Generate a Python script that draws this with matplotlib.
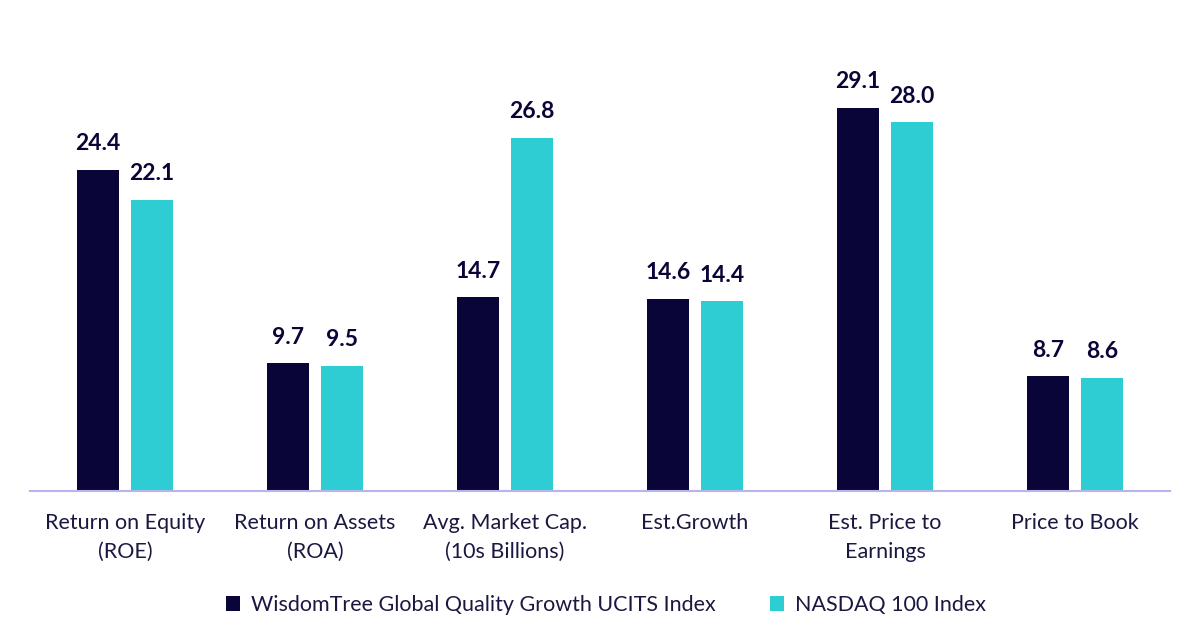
import matplotlib.pyplot as plt
import numpy as np

categories = ["Return on Equity\n(ROE)", "Return on Assets\n(ROA)", "Avg. Market Cap.\n(10s Billions)",
              "Est.Growth", "Est. Price to\nEarnings", "Price to Book"]
wisdomtree = [24.4, 9.7, 14.7, 14.6, 29.1, 8.7]
nasdaq = [22.1, 9.5, 26.8, 14.4, 28.0, 8.6]
series_names = ["WisdomTree Global Quality Growth UCITS Index", "NASDAQ 100 Index"]

dark = "#0a0538"
teal = "#2ecdd4"
text_col = "#1a1840"

plt.rcParams['font.family'] = ['Lato', 'DejaVu Sans']

fig = plt.figure(figsize=(12, 6.43), dpi=100)
ax = fig.add_axes([0.025, 1 - 491 / 643, 0.95, 491 / 643])

x = np.arange(len(categories))
w = 0.22
off = 0.142
b1 = ax.bar(x - off, wisdomtree, w, color=dark, label=series_names[0])
b2 = ax.bar(x + off, nasdaq, w, color=teal, label=series_names[1])

for bars in (b1, b2):
    for rect in bars:
        h = rect.get_height()
        ax.text(rect.get_x() + rect.get_width() / 2, h + 1.2, f"{h:.1f}",
                ha='center', va='bottom', fontsize=16.5, fontweight='bold', color=dark)

ax.set_xlim(-0.5, 5.5)
ax.set_ylim(0, 37.3)
ax.set_xticks(x)
ax.set_xticklabels(categories, fontsize=15.5, color=text_col, linespacing=1.55)
ax.tick_params(axis='x', length=0, pad=16)
ax.set_yticks([])
for s in ['top', 'right', 'left']:
    ax.spines[s].set_visible(False)
ax.spines['bottom'].set_color('#b8b4ee')
ax.spines['bottom'].set_linewidth(1.5)

fig.legend(handles=[b1, b2], loc='center', bbox_to_anchor=(0.505, 1 - 605 / 643), ncol=2,
           frameon=False, fontsize=15.5, labelcolor=text_col, handlelength=0.65, handleheight=0.65,
           handletextpad=0.5, columnspacing=2.5)

fig.savefig("out.png", dpi=100)
